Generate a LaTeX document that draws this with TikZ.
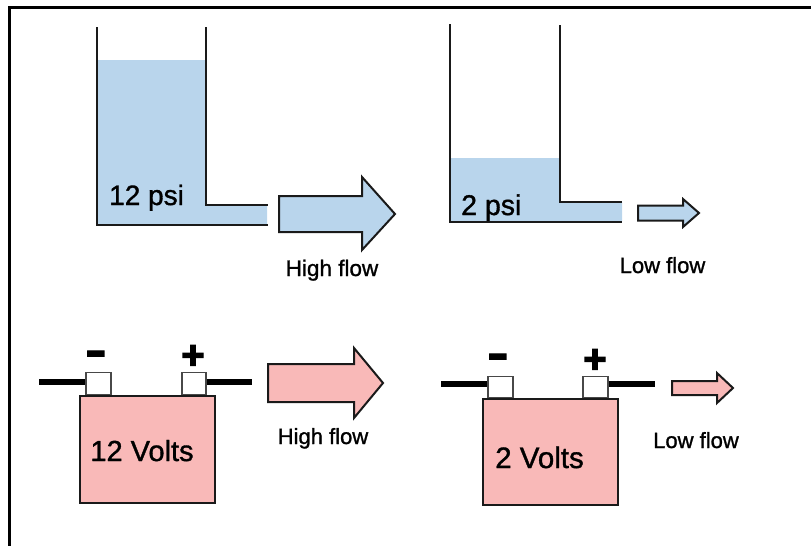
\documentclass[tikz,border=0pt]{standalone}
\usepackage{graphicx}
\usepackage{fontspec}
\setmainfont[FakeBold=1.2]{Liberation Sans}
\newfontfamily\signfont[FakeBold=3]{Liberation Sans Bold}
\definecolor{waterblue}{HTML}{B9D5EC}
\definecolor{battpink}{HTML}{F9B9B8}
\definecolor{outl}{HTML}{1A1A1A}
\tikzset{
  wall/.style={line width=2pt, draw=outl, line join=miter},
  flowarrow/.style={line width=2pt, draw=outl, line join=miter},
  body/.style={draw=outl, line width=2pt, fill=battpink, rectangle, inner sep=0pt},
  term/.style={draw=outl!80, line width=1.5pt, fill=white, rectangle, inner sep=0pt},
  wire/.style={line width=6pt, draw=black},
  lbl/.style={inner sep=0pt, text=black},
  minussign/.style={inner sep=0pt, font=\signfont\fontsize{44}{44}\selectfont},
  plussign/.style={inner sep=0pt, font=\signfont\fontsize{40}{40}\selectfont}
}
\begin{document}
\begin{tikzpicture}[x=1pt,y=-1pt]
\useasboundingbox (0,0) rectangle (811,546);
% frame
\draw[line width=3pt] (9.5,546) -- (9.5,7.5) -- (811,7.5);

% ---------- tank 1 ----------
\fill[waterblue] (98,60) -- (206,60) -- (206,205) -- (267,205) -- (267,224) -- (98,224) -- cycle;
\draw[wall] (97,27) -- (97,225) -- (268,225);
\draw[wall] (206,27) -- (206,205) -- (268,205);
\node[lbl, anchor=base west, font=\fontsize{28}{28}\selectfont] (p12) at (109,205) {12 psi};
\draw[flowarrow, fill=waterblue] (279,196) -- (362,196) -- (362,177) -- (395,214) -- (362,250) -- (362,232) -- (279,232) -- cycle;
\node[lbl, anchor=base, font=\fontsize{22.5}{22.5}\selectfont] (hf1) at (332,276) {High flow};

% ---------- tank 2 ----------
\fill[waterblue] (451,158) -- (560,158) -- (560,202) -- (622,202) -- (622,221) -- (451,221) -- cycle;
\draw[wall] (450,24) -- (450,222) -- (622,222);
\draw[wall] (560,25) -- (560,202) -- (622,202);
\node[lbl, anchor=base west, font=\fontsize{28.5}{28.5}\selectfont] (p2) at (461,215) {2 psi};
\draw[flowarrow, fill=waterblue] (638,205.5) -- (683,205.5) -- (683,199) -- (699,213) -- (683,227) -- (683,220.5) -- (638,220.5) -- cycle;
\node[lbl, anchor=base, font=\fontsize{22}{22}\selectfont] (lf1) at (662.5,273) {Low flow};

% ---------- battery 1 ----------
\node[body, minimum width=135pt, minimum height=107pt, anchor=north west] (b1) at (79,395) {};
\node[term, minimum width=25pt, minimum height=22pt, anchor=south west] (b1n) at (85,395) {};
\node[term, minimum width=24pt, minimum height=22pt, anchor=south west] (b1p) at (181,395) {};
\coordinate (w1l) at (39,382);
\coordinate (w1r) at (252,382);
\draw[wire] (w1l) -- (w1l -| b1n.west);
\draw[wire] (w1r -| b1p.east) -- (w1r);
\node[minussign] (m1) at (96,358) {\scalebox{1.4}[1]{-}};
\node[plussign] (s1) at (193,357) {+};
\node[lbl, anchor=base, font=\fontsize{29}{29}\selectfont] (v12) at (142,461) {12 Volts};
\draw[flowarrow, fill=battpink] (268,364) -- (354,364) -- (354,348) -- (383,383) -- (354,418) -- (354,402) -- (268,402) -- cycle;
\node[lbl, anchor=base, font=\fontsize{22}{22}\selectfont] (hf2) at (323,444) {High flow};

% ---------- battery 2 ----------
\node[body, minimum width=135pt, minimum height=106pt, anchor=north west] (b2) at (482,398) {};
\node[term, minimum width=25pt, minimum height=21pt, anchor=south west] (b2n) at (487,398) {};
\node[term, minimum width=25pt, minimum height=21pt, anchor=south west] (b2p) at (582,398) {};
\coordinate (w2l) at (441,384);
\coordinate (w2r) at (655,384);
\draw[wire] (w2l) -- (w2l -| b2n.west);
\draw[wire] (w2r -| b2p.east) -- (w2r);
\node[minussign] (m2) at (498,361) {\scalebox{1.4}[1]{-}};
\node[plussign] (s2) at (595,361) {+};
\node[lbl, anchor=base, font=\fontsize{29.5}{29.5}\selectfont] (v2) at (539.5,468) {2 Volts};
\draw[flowarrow, fill=battpink] (672,381) -- (717,381) -- (717,373) -- (733,388) -- (717,403) -- (717,395) -- (672,395) -- cycle;
\node[lbl, anchor=base, font=\fontsize{22}{22}\selectfont] (lf2) at (696,448) {Low flow};
\end{tikzpicture}
\end{document}
